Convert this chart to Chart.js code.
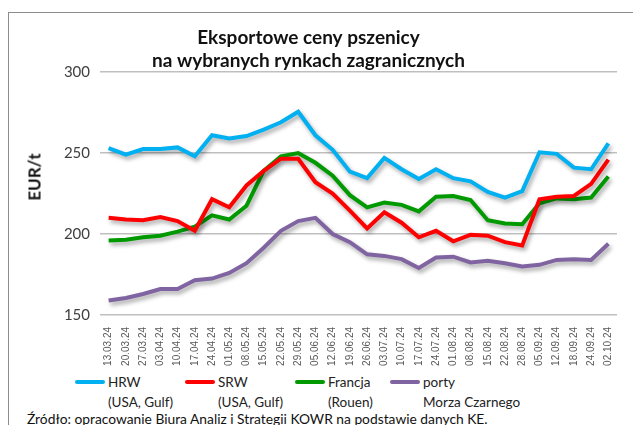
<!DOCTYPE html>
<html>
<head>
<meta charset="utf-8">
<script src="https://cdn.jsdelivr.net/npm/chart.js@4"></script>
<style>
	body { margin: 0; background: #fff; width: 633px; height: 425px; overflow: hidden; position: relative; font-family: Lato, "Open Sans", sans-serif; }
	#frame { position: absolute; left: 8px; top: 12px; width: 640px; height: 430px; border: 1px solid #8c8c8c; box-sizing: border-box; }
	#wrap { position: absolute; left: 0; top: 0; width: 633px; height: 366px; }
	#ytitle { position: absolute; left: 34px; top: 177px; transform: translate(-50%, -50%) rotate(-90deg); font-size: 17px; font-weight: bold; color: #111; white-space: nowrap; }
	.leg { position: absolute; font-size: 13.5px; color: #222; line-height: 20px; }
	.leg span.sw { position: absolute; top: 8px; height: 4px; width: 30px; border-radius: 2px; }
	#src { position: absolute; left: 27px; top: 410px; font-size: 13.8px; color: #111; white-space: nowrap; }
</style>
</head>
<body>
<div id="frame"></div>
<div id="wrap"><canvas id="myChart"></canvas></div>
<div id="ytitle">EUR/t</div>
<div id="legend"></div>
<div id="src">Źródło: opracowanie Biura Analiz i Strategii KOWR na podstawie danych KE.</div>
<script>
var labels = ["13.03.24", "20.03.24", "27.03.24", "03.04.24", "10.04.24", "17.04.24", "24.04.24", "01.05.24", "08.05.24", "15.05.24",
	"22.05.24", "29.05.24", "05.06.24", "12.06.24", "19.06.24", "26.06.24", "03.07.24", "10.07.24", "17.07.24", "24.07.24",
	"01.08.24", "08.08.24", "15.08.24", "22.08.24", "28.08.24", "05.09.24", "12.09.24", "18.09.24", "24.09.24", "02.10.24"];
var hrw = [253, 249, 252.5, 252.5, 253.5, 248, 261, 259, 260.5, 264.5, 269, 275.5, 261, 252, 238.5,
	234.5, 247, 240, 234, 240, 234.5, 232.5, 226, 222.5, 226.5, 250.5, 249.5, 241, 240, 256];
var srw = [210, 209, 208.5, 210.5, 208, 202, 221.5, 216.5, 230, 239, 246.5, 246.5, 232, 225, 214.5,
	203.5, 213.5, 207, 198, 202, 195.5, 199.5, 199, 195, 193, 221.5, 223, 223.5, 231, 246];
var francja = [196, 196.5, 198, 199, 201.5, 204.5, 211.5, 209, 217.5, 239, 248, 250, 244, 236, 224,
	216.5, 219.5, 218, 214, 223, 223.5, 221, 208.5, 206.5, 206, 219, 222, 221.5, 222.5, 235.5];
var porty = [159, 160.5, 163, 166, 166, 171.5, 172.5, 176, 182, 191.5, 202, 208, 210, 200, 195,
	187.5, 186.5, 184.5, 179, 185.5, 186, 182.5, 183.5, 182, 180, 181, 184, 184.5, 184, 194];
var yTicks = [150, 200, 250, 300];

var series = [
	{ name: ["HRW", "(USA, Gulf)"], data: hrw, color: "#00b0f0", x: 75 },
	{ name: ["SRW", "(USA, Gulf)"], data: srw, color: "#ff0000", x: 185 },
	{ name: ["Francja", "(Rouen)"], data: francja, color: "#009a00", x: 295 },
	{ name: ["porty", "Morza Czarnego"], data: porty, color: "#8064a2", x: 390 },
];

// legend in html, two lines per entry
var legend = document.getElementById("legend");
series.forEach((s) => {
	var d = document.createElement("div");
	d.className = "leg";
	d.style.left = s.x + "px";
	d.style.top = "372px";
	d.innerHTML = '<span class="sw" style="left:0;background:' + s.color + '"></span>' +
		'<div style="margin-left:33px">' + s.name[0] + "<br>" + s.name[1] + "</div>";
	legend.appendChild(d);
});

// drop shadow under the lines
var shadowPlugin = {
	id: "shadow",
	beforeDatasetsDraw(chart) {
		var ctx = chart.ctx;
		ctx.save();
		ctx.shadowColor = "rgba(0,0,0,0.35)";
		ctx.shadowBlur = 4;
		ctx.shadowOffsetX = 2;
		ctx.shadowOffsetY = 3;
	},
	afterDatasetsDraw(chart) {
		chart.ctx.restore();
	},
};

const ctx = document.getElementById("myChart").getContext("2d");
var chart = new Chart(ctx, {
	type: "line",
	data: {
		labels: labels,
		datasets: series.map((s) => ({
			label: s.name.join(" "),
			data: s.data,
			borderColor: s.color,
			backgroundColor: s.color,
			borderWidth: 4,
			pointRadius: 0,
			fill: false,
			tension: 0,
		})),
	},
	options: {
		responsive: true,
		maintainAspectRatio: false,
		animation: false,
		layout: { padding: { left: 0, right: 16, top: 0, bottom: 0 } },
		plugins: {
			legend: { display: false },
			tooltip: { enabled: false },
			title: {
				display: true,
				text: ["Eksportowe ceny pszenicy", "na wybranych rynkach zagranicznych"],
				font: { size: 19, weight: "bold", family: "Lato", lineHeight: 1.2 },
				color: "#111",
				padding: { top: 26.5, bottom: 0 },
			},
		},
		scales: {
			x: {
				offset: true,
				grid: { display: false },
				border: { display: false },
				ticks: {
					autoSkip: false,
					minRotation: 90,
					maxRotation: 90,
					font: { size: 10, family: "Liberation Sans" },
					color: "#595959",
					padding: 4,
				},
				afterFit: (scale) => { scale.height = 51; },
			},
			y: {
				min: 150,
				max: 300,
				afterBuildTicks: (scale) => { scale.ticks = yTicks.map((v) => ({ value: v })); },
				grid: { color: "#bfbfbf", lineWidth: 1.5, drawTicks: false },
				border: { display: false },
				ticks: {
					font: { size: 15, family: "Lato" },
					color: "#404040",
					padding: 10,
				},
				afterFit: (scale) => { scale.width = 100; },
			},
		},
	},
	plugins: [shadowPlugin],
});
</script>
</body>
</html>
